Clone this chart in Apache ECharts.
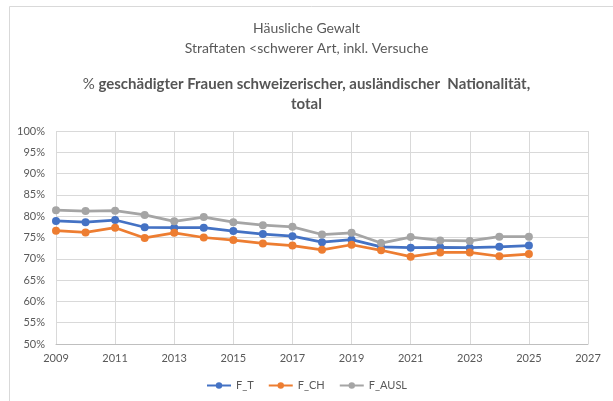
<!DOCTYPE html>
<html>
<head>
<meta charset="utf-8">
<script src="https://cdn.jsdelivr.net/npm/echarts@6/dist/echarts.min.js"></script>
<style>
html,body{margin:0;padding:0;background:#fff;}
#c{width:613px;height:401px;}
</style>
</head>
<body>
<div id="c"></div>
<script>
const categories = ['2009','2010','2011','2012','2013','2014','2015','2016','2017','2018','2019','2020','2021','2022','2023','2024','2025','2026','2027'];
const F_T    = [78.9, 78.6, 79.1, 77.4, 77.3, 77.3, 76.5, 75.8, 75.3, 73.9, 74.5, 72.8, 72.6, 72.7, 72.6, 72.8, 73.1];
const F_CH   = [76.6, 76.2, 77.3, 74.9, 76.1, 75.0, 74.4, 73.6, 73.1, 72.1, 73.3, 72.0, 70.5, 71.5, 71.5, 70.6, 71.1];
const F_AUSL = [81.4, 81.2, 81.3, 80.3, 78.8, 79.8, 78.6, 77.9, 77.5, 75.7, 76.1, 73.7, 75.1, 74.3, 74.2, 75.2, 75.2];
const yTicks = { min: 50, max: 100, step: 5 };

const font = 'Lato';
const txt = '#595959';
const chart = echarts.init(document.getElementById('c'), null, {renderer: 'canvas'});

function mk(name, data, color) {
  return {
    name: name, type: 'line', data: data,
    symbol: 'circle', symbolSize: 8,
    lineStyle: { color: color, width: 2.75 },
    itemStyle: { color: color },
    animation: false
  };
}

chart.setOption({
  animation: false,
  backgroundColor: '#fff',
  graphic: [{
    type: 'rect', shape: { x: 9.5, y: 6.5, width: 700, height: 500 },
    style: { fill: 'none', stroke: '#d9d9d9', lineWidth: 1 }, silent: true
  }],
  title: [{
    text: 'Häusliche Gewalt\nStraftaten <schwerer Art, inkl. Versuche',
    left: 'center', top: 13,
    textStyle: { fontFamily: font, fontSize: 14, fontWeight: 'normal', color: txt, lineHeight: 20 }
  }, {
    text: '{p|%} {b|geschädigter Frauen schweizerischer, ausländischer  Nationalität,}\n{b|total}',
    left: 'center', top: 69,
    textStyle: {
      fontFamily: font, fontSize: 15, color: txt, lineHeight: 20,
      rich: {
        p: { fontFamily: font, fontSize: 15, fontWeight: 'normal', color: txt, lineHeight: 20 },
        b: { fontFamily: font, fontSize: 15, fontWeight: 'bold', color: '#555555', lineHeight: 20 }
      }
    }
  }],
  legend: {
    bottom: 5, left: 'center',
    itemWidth: 24, itemHeight: 8, itemGap: 14,
    textStyle: { fontFamily: font, fontSize: 11, color: txt },
    data: ['F_T', 'F_CH', 'F_AUSL']
  },
  grid: { left: 56, right: 25, top: 131, bottom: 57, containLabel: false },
  xAxis: {
    type: 'category', data: categories, boundaryGap: false,
    axisLine: { show: true, lineStyle: { color: '#bfbfbf', width: 1 } },
    axisTick: { show: false },
    axisLabel: { interval: 1, fontFamily: font, fontSize: 11, color: txt, margin: 9 },
    splitLine: { show: true, interval: 1, lineStyle: { color: '#d9d9d9', width: 1 } }
  },
  yAxis: {
    type: 'value', min: yTicks.min, max: yTicks.max, interval: yTicks.step,
    axisLine: { show: false }, axisTick: { show: false },
    axisLabel: { formatter: '{value}%', fontFamily: font, fontSize: 11, color: txt, margin: 11 },
    splitLine: { show: true, lineStyle: { color: '#d9d9d9', width: 1 } }
  },
  series: [
    mk('F_T', F_T, '#4472C4'),
    mk('F_CH', F_CH, '#ED7D31'),
    mk('F_AUSL', F_AUSL, '#A5A5A5')
  ]
});
</script>
</body>
</html>
